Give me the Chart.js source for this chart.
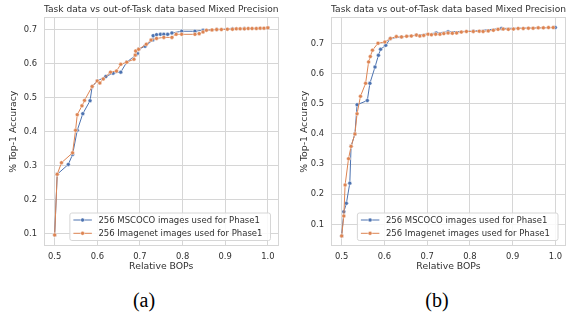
<!DOCTYPE html>
<html>
<head>
<meta charset="utf-8">
<script src="https://cdn.jsdelivr.net/npm/chart.js@4.4.0/dist/chart.umd.min.js"></script>
<style>
  body { margin: 0; background: #fff; width: 576px; height: 313px; position: relative; overflow: hidden; }
  .panel { position: absolute; top: 0; width: 288px; height: 280px; }
  .cap { position: absolute; top: 290px; line-height: 20px; font-family: "Liberation Serif", "Times New Roman", serif; font-size: 20px; color: #000; transform: translateX(-50%); }
</style>
</head>
<body>
<div class="panel" style="left:0"><canvas id="chartA" width="288" height="280"></canvas></div>
<div class="panel" style="left:288px"><canvas id="chartB" width="288" height="280"></canvas></div>
<div class="cap" style="left:144px">(a)</div>
<div class="cap" style="left:437px">(b)</div>
<script>
const chartTitle = 'Task data vs out-of-Task data based Mixed Precision';
const seriesNames = ['256 MSCOCO images used for Phase1', '256 Imagenet images used for Phase1'];
const xTicks = [0.5, 0.6, 0.7, 0.8, 0.9, 1.0];
const yTicks = [0.1, 0.2, 0.3, 0.4, 0.5, 0.6, 0.7];

// (a)
const aMscocoBops = [0.500, 0.506, 0.532, 0.542, 0.553, 0.566, 0.583, 0.588, 0.600, 0.620, 0.637, 0.655, 0.669, 0.690, 0.694, 0.697, 0.712, 0.730, 0.731, 0.739, 0.748, 0.756, 0.765, 0.775, 0.798, 0.829, 0.848, 0.880, 0.917, 0.945, 1.000];
const aMscocoAcc  = [0.097, 0.275, 0.304, 0.333, 0.404, 0.453, 0.491, 0.533, 0.549, 0.562, 0.572, 0.575, 0.604, 0.625, 0.630, 0.642, 0.651, 0.669, 0.682, 0.685, 0.686, 0.686, 0.686, 0.690, 0.695, 0.695, 0.698, 0.700, 0.702, 0.703, 0.705];
const aImagenetBops = [0.500, 0.506, 0.516, 0.542, 0.549, 0.553, 0.564, 0.570, 0.588, 0.600, 0.606, 0.614, 0.631, 0.645, 0.655, 0.669, 0.686, 0.689, 0.690, 0.697, 0.715, 0.726, 0.739, 0.756, 0.775, 0.785, 0.798, 0.829, 0.839, 0.848, 0.856, 0.869, 0.880, 0.891, 0.905, 0.917, 0.926, 0.935, 0.945, 0.954, 0.963, 0.973, 0.982, 0.991, 1.000];
const aImagenetAcc  = [0.097, 0.275, 0.309, 0.338, 0.404, 0.450, 0.476, 0.492, 0.533, 0.549, 0.543, 0.555, 0.575, 0.578, 0.598, 0.604, 0.613, 0.625, 0.637, 0.642, 0.657, 0.669, 0.674, 0.677, 0.677, 0.686, 0.686, 0.686, 0.688, 0.693, 0.698, 0.699, 0.700, 0.700, 0.701, 0.701, 0.702, 0.702, 0.702, 0.703, 0.703, 0.703, 0.704, 0.704, 0.705];

// (b)
const bMscocoBops = [0.500, 0.505, 0.511, 0.519, 0.522, 0.531, 0.536, 0.560, 0.566, 0.578, 0.586, 0.591, 0.603, 0.614, 0.640, 0.675, 0.721, 0.749, 0.808, 0.874, 1.000];
const bMscocoAcc  = [0.062, 0.142, 0.170, 0.237, 0.359, 0.400, 0.497, 0.511, 0.568, 0.622, 0.661, 0.681, 0.694, 0.717, 0.722, 0.728, 0.735, 0.739, 0.741, 0.750, 0.753];
const bImagenetBops = [0.500, 0.505, 0.508, 0.516, 0.522, 0.531, 0.536, 0.544, 0.556, 0.563, 0.567, 0.572, 0.585, 0.601, 0.614, 0.628, 0.640, 0.652, 0.663, 0.675, 0.683, 0.692, 0.702, 0.710, 0.720, 0.730, 0.739, 0.749, 0.759, 0.769, 0.780, 0.792, 0.808, 0.822, 0.831, 0.843, 0.855, 0.866, 0.878, 0.890, 0.902, 0.913, 0.925, 0.937, 0.948, 0.960, 0.972, 0.984, 0.995];
const bImagenetAcc  = [0.062, 0.128, 0.231, 0.318, 0.359, 0.400, 0.467, 0.525, 0.568, 0.639, 0.657, 0.678, 0.701, 0.705, 0.717, 0.723, 0.722, 0.724, 0.725, 0.728, 0.725, 0.727, 0.731, 0.729, 0.731, 0.731, 0.733, 0.735, 0.734, 0.735, 0.738, 0.740, 0.740, 0.741, 0.740, 0.742, 0.744, 0.747, 0.748, 0.747, 0.748, 0.750, 0.750, 0.751, 0.751, 0.752, 0.752, 0.753, 0.753];

const blue = '#4c72b0';
const orange = '#dd8452';
const gridColor = '#d6d6d6';
const textColor = '#303030';

function toPoints(xs, ys) {
  return xs.map(function (x, i) { return { x: x, y: ys[i] }; });
}

// axes frame on all four sides, like the seaborn whitegrid spines
const framePlugin = {
  id: 'frame',
  beforeDatasetsDraw(chart) {
    const a = chart.chartArea;
    const ctx = chart.ctx;
    ctx.save();
    ctx.strokeStyle = gridColor;
    ctx.lineWidth = 1;
    ctx.strokeRect(Math.round(a.left) + 0.5, Math.round(a.top) + 0.5, Math.round(a.right - a.left) - 1, Math.round(a.bottom - a.top) - 1);
    ctx.restore();
  },
};

// legend box in the lower right corner of the plot
const boxLegend = {
  id: 'boxLegend',
  afterDraw(chart) {
    const a = chart.chartArea;
    const ctx = chart.ctx;
    ctx.save();
    ctx.font = '8.5px "DejaVu Sans"';
    let textW = 0;
    seriesNames.forEach(function (n) { textW = Math.max(textW, ctx.measureText(n).width); });
    const w = 29 + textW + 7.5;
    const h = 27.5;
    const right = a.right - 8.5;
    const bottom = a.bottom - 6;
    const left = right - w;
    const top = bottom - h;
    ctx.beginPath();
    ctx.roundRect(left + 0.5, top + 0.5, w, h, 2);
    ctx.fillStyle = 'rgba(255,255,255,0.85)';
    ctx.fill();
    ctx.strokeStyle = gridColor;
    ctx.lineWidth = 1;
    ctx.stroke();
    const colors = [blue, orange];
    seriesNames.forEach(function (n, i) {
      const y = top + 7.5 + i * 13.3;
      ctx.strokeStyle = colors[i];
      ctx.lineWidth = 1;
      ctx.beginPath();
      ctx.moveTo(left + 4, y);
      ctx.lineTo(left + 22.5, y);
      ctx.stroke();
      ctx.beginPath();
      ctx.arc(left + 13.2, y, 2, 0, Math.PI * 2);
      ctx.fillStyle = colors[i];
      ctx.fill();
      ctx.strokeStyle = '#fff';
      ctx.lineWidth = 0.5;
      ctx.stroke();
      ctx.fillStyle = textColor;
      ctx.textBaseline = 'middle';
      ctx.fillText(n, left + 29, y + 0.5);
    });
    ctx.restore();
  },
};

function makeChart(id, mX, mY, iX, iY, yMin, yMax, yAxisW, yTitlePad, rightPad) {
  const ds = function (label, xs, ys, color, order) {
    return {
      label: label,
      data: toPoints(xs, ys),
      showLine: true,
      borderColor: color,
      backgroundColor: color,
      borderWidth: 1,
      pointRadius: 2,
      pointBorderColor: '#fff',
      pointBorderWidth: 0.5,
      pointBackgroundColor: color,
      order: order,
    };
  };
  return new Chart(document.getElementById(id), {
    type: 'scatter',
    data: {
      datasets: [
        ds(seriesNames[0], mX, mY, blue, 1),
        ds(seriesNames[1], iX, iY, orange, 0),
      ],
    },
    plugins: [framePlugin, boxLegend],
    options: {
      responsive: false,
      animation: false,
      events: [],
      layout: { padding: { left: 0, right: rightPad, top: 0, bottom: 0 } },
      plugins: {
        legend: { display: false },
        tooltip: { enabled: false },
        title: {
          display: true,
          text: chartTitle,
          fullSize: false,
          color: textColor,
          font: { family: 'DejaVu Sans', size: 9.3, weight: 'normal' },
          padding: { top: 4.3, bottom: 2 },
        },
      },
      scales: {
        x: {
          type: 'linear',
          min: 0.475,
          max: 1.025,
          afterBuildTicks: function (s) { s.ticks = xTicks.map(function (v) { return { value: v }; }); },
          afterFit: function (s) { s.height = 34; },
          ticks: {
            callback: function (v) { return v.toFixed(1); },
            color: textColor,
            font: { family: 'DejaVu Sans', size: 8.4 },
            padding: 6,
            maxRotation: 0,
          },
          grid: { color: gridColor, drawTicks: false },
          border: { display: false },
          title: {
            display: true,
            text: 'Relative BOPs',
            color: textColor,
            font: { family: 'DejaVu Sans', size: 9.3 },
            padding: { top: 0, bottom: 8 },
          },
        },
        y: {
          type: 'linear',
          min: yMin,
          max: yMax,
          afterBuildTicks: function (s) { s.ticks = yTicks.map(function (v) { return { value: v }; }); },
          afterFit: function (s) { s.width = yAxisW; },
          ticks: {
            callback: function (v) { return v.toFixed(1); },
            color: textColor,
            font: { family: 'DejaVu Sans', size: 8.4 },
            padding: 7,
          },
          grid: { color: gridColor, drawTicks: false },
          border: { display: false },
          title: {
            display: true,
            text: '% Top-1 Accuracy',
            color: textColor,
            font: { family: 'DejaVu Sans', size: 9.3 },
            padding: { top: yTitlePad, bottom: 0 },
          },
        },
      },
    },
  });
}

makeChart('chartA', aMscocoBops, aMscocoAcc, aImagenetBops, aImagenetAcc, 0.0645, 0.7355, 44, 8.5, 9.5);
makeChart('chartB', bMscocoBops, bMscocoAcc, bImagenetBops, bImagenetAcc, 0.0285, 0.7865, 43, 11.5, 10);
</script>
</body>
</html>
